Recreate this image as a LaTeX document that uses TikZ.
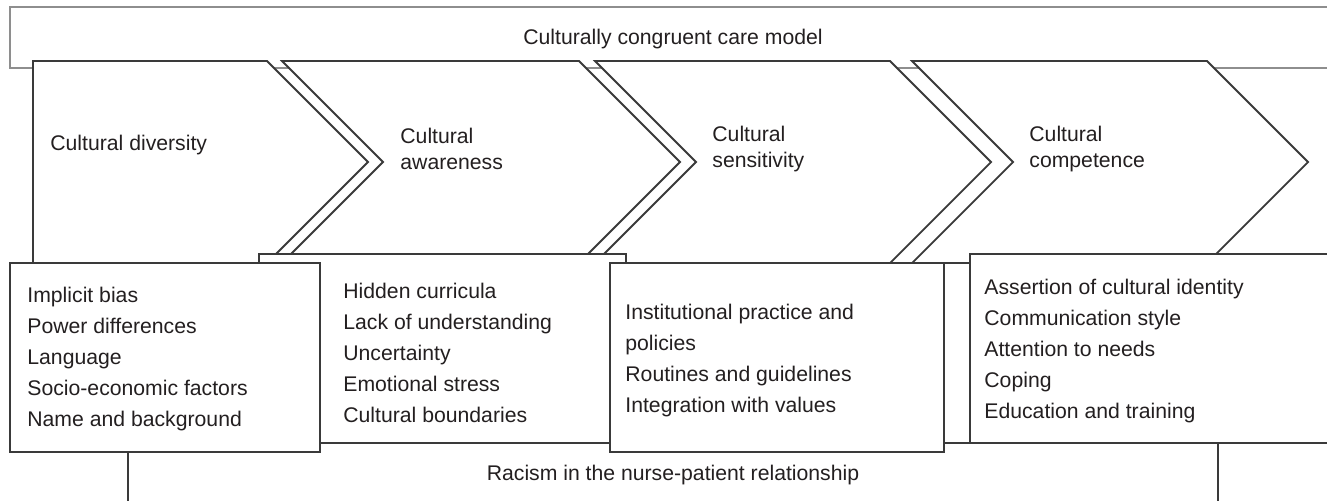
\documentclass[tikz,border=0pt]{standalone}
\usepackage{fontspec}
\setmainfont{Liberation Sans}
\definecolor{ink}{HTML}{3A3A3A}
\definecolor{rim}{HTML}{8E8E8E}
\definecolor{type}{HTML}{231F20}
\tikzset{stage/.style={draw=ink,line width=0.9pt,fill=white,line join=miter}, card/.style={draw=ink,line width=0.9pt,fill=white},lbl/.style={font=\fontsize{10.6}{13}\selectfont,text=type,align=left,inner sep=0pt},items/.style={font=\fontsize{10.6}{15.5}\selectfont,text=type,align=left,inner sep=0pt,anchor=west}}

\begin{document}
\begin{tikzpicture}[x=0.5pt,y=-0.5pt]
\clip (0,0) rectangle (1327,500);
\fill[white] (0,0) rectangle (1327,500);
% band of the whole model, open to the right
\draw[rim,line width=0.9pt] (10,7) rectangle (1360,68);
\node[lbl] (model) at (673,39) {Culturally congruent care model};
% the four stages
\draw[stage] (33,61) -- (267,61) -- (368,162) -- (267,263) -- (33,263) -- cycle;
\foreach \l/\r in {282/579,595/890,912/1207}
  \draw[stage] (\l,61) -- (\r,61) -- ++(101,101) -- (\r,263) -- (\l,263) -- ++(101,-101) -- cycle;
\node[lbl,anchor=west] (diversity) at (50,145) {Cultural diversity};
\node[lbl,anchor=west] (awareness) at (400,149) {Cultural\\awareness};
\node[lbl,anchor=west] (sensitivity) at (712,149) {Cultural\\sensitivity};
\node[lbl,anchor=west] (competence) at (1029,149) {Cultural\\competence};
% racism frame under the factor boxes
\draw[ink,line width=0.9pt] (128,263) rectangle (1218,443) (128,443) -- (128,520) (1218,443) -- (1218,520);
\node[lbl] (racism) at (673,475) {Racism in the nurse-patient relationship};
% factor boxes, back row first
\draw[card] (259,254) rectangle (626,443);
\draw[card] (970,254) rectangle (1360,443);
\draw[card] (10,263) rectangle (320,452);
\draw[card] (610,263) rectangle (944,452);
\node[items] (diversityf) at (27,359) {Implicit bias\\Power differences\\Language\\Socio-economic factors\\Name and background};
\node[items] (awarenessf) at (343,353) {Hidden curricula\\Lack of understanding\\Uncertainty\\Emotional stress\\Cultural boundaries};
\node[items] (sensitivityf) at (625,361) {Institutional practice and\\policies\\Routines and guidelines\\Integration with values};
\node[items] (competencef) at (984,351) {Assertion of cultural identity\\Communication style\\Attention to needs\\Coping\\Education and training};
\end{tikzpicture}
\end{document}
